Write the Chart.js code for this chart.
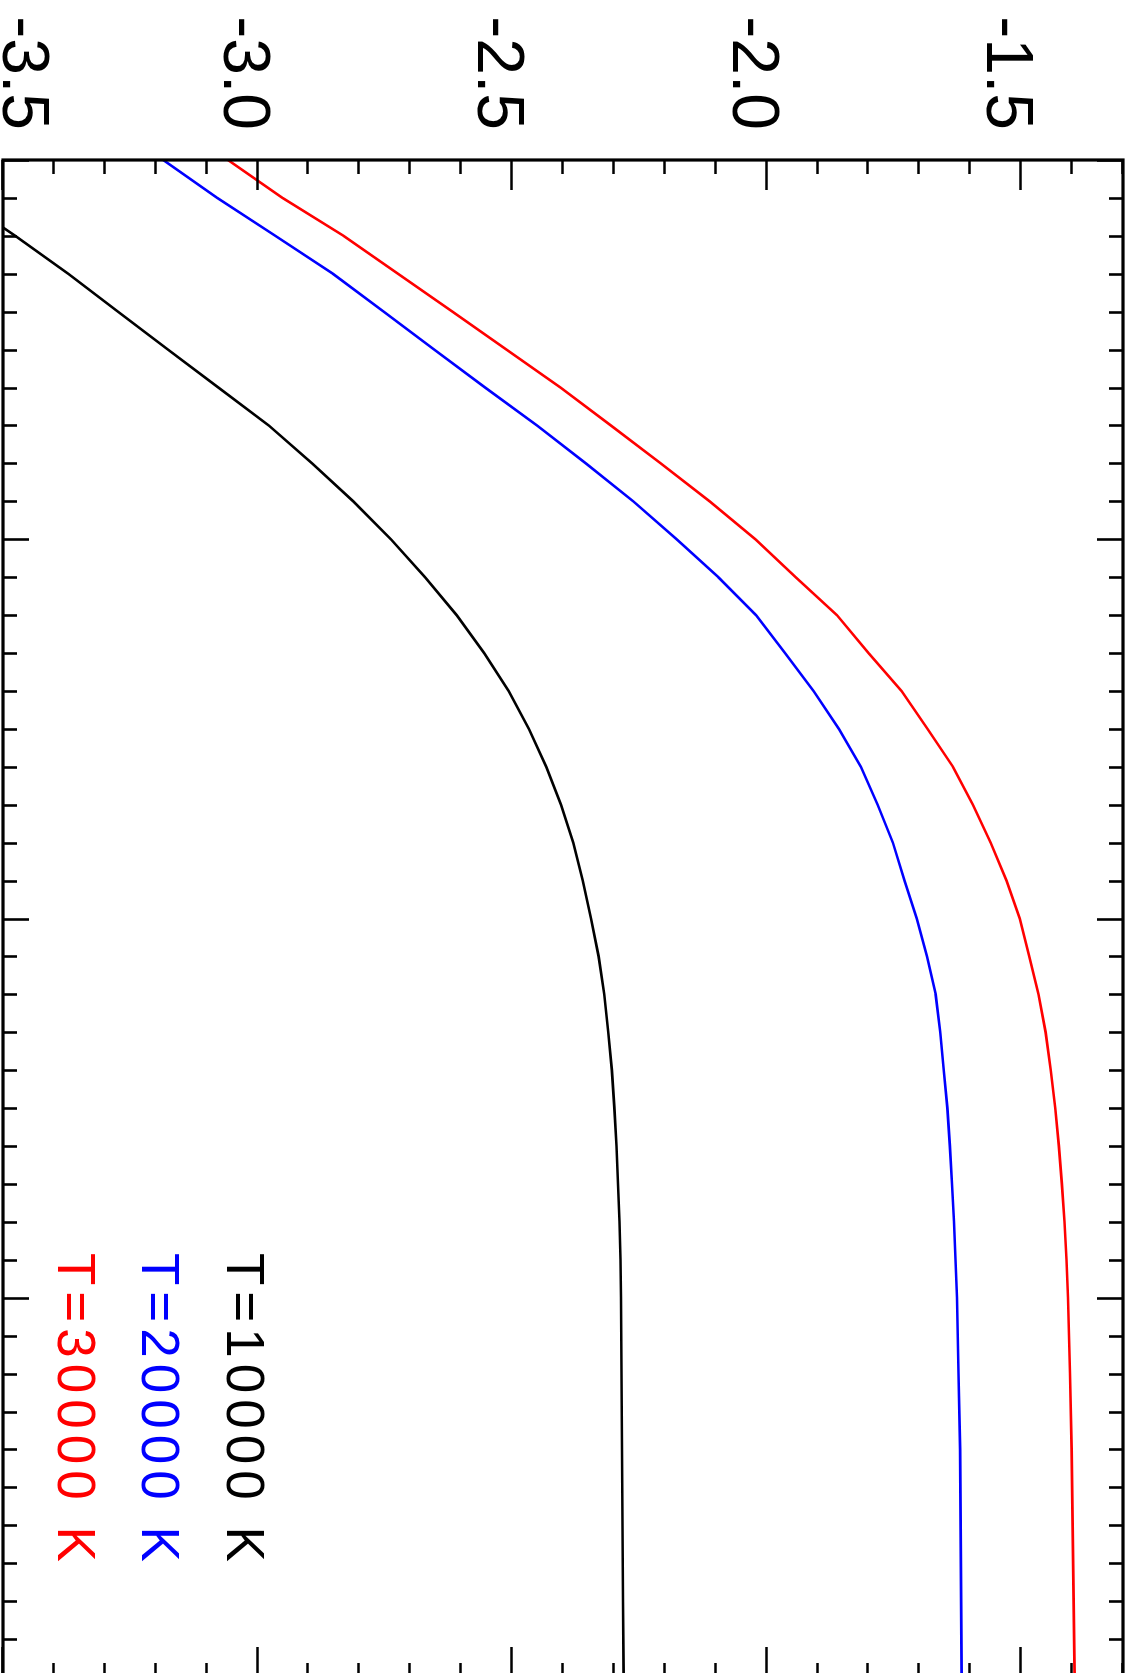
<!DOCTYPE html>
<html>
<head>
    <title>T curves</title>
    <script src="https://cdn.jsdelivr.net/npm/chart.js"></script>
    <style>
        html, body { margin: 0; padding: 0; background: #fff; overflow: hidden; }
        /* the plot is drawn landscape and turned a quarter turn clockwise */
        #wrap {
            position: absolute; left: 0; top: 0;
            width: 1700px; height: 1133px;
            transform-origin: 0 0;
            transform: translate(1133px, 0) rotate(90deg);
        }
    </style>
</head>
<body>
    <div id="wrap">
        <canvas id="chart" width="1700" height="1133"></canvas>
    </div>

    <script>
        // data
        const xValues = [0, 0.1, 0.2, 0.3, 0.4, 0.5, 0.6, 0.7, 0.8, 0.9,
                         1.0, 1.1, 1.2, 1.3, 1.4, 1.5, 1.6, 1.7, 1.8, 1.9,
                         2.0, 2.1, 2.2, 2.3, 2.4, 2.5, 2.6, 2.7, 2.8, 2.9,
                         3.0, 3.2, 3.4, 3.6, 3.8, 4.0];
        const t10000 = [-3.690, -3.585, -3.476, -3.372, -3.274, -3.176, -3.077, -2.978, -2.893, -2.812,
                        -2.738, -2.671, -2.609, -2.555, -2.507, -2.467, -2.433, -2.404, -2.380, -2.361,
                        -2.345, -2.330, -2.319, -2.311, -2.304, -2.299, -2.295, -2.292, -2.289, -2.287,
                        -2.286, -2.285, -2.284, -2.283, -2.282, -2.281];
        const t20000 = [-3.185, -3.079, -2.965, -2.852, -2.752, -2.653, -2.553, -2.451, -2.355, -2.262,
                        -2.177, -2.095, -2.021, -1.964, -1.908, -1.858, -1.815, -1.782, -1.752, -1.729,
                        -1.705, -1.685, -1.668, -1.659, -1.652, -1.645, -1.640, -1.636, -1.632, -1.629,
                        -1.626, -1.623, -1.620, -1.619, -1.618, -1.617];
        const t30000 = [-3.058, -2.951, -2.831, -2.724, -2.617, -2.511, -2.405, -2.306, -2.208, -2.112,
                        -2.022, -1.943, -1.862, -1.800, -1.735, -1.684, -1.634, -1.595, -1.560, -1.529,
                        -1.503, -1.484, -1.466, -1.452, -1.442, -1.433, -1.426, -1.420, -1.415, -1.411,
                        -1.408, -1.404, -1.401, -1.399, -1.397, -1.395];
        const seriesLabels = ['T=10000 K', 'T=20000 K', 'T=30000 K'];
        const seriesColors = ['#000000', '#0000ff', '#ff0000'];

        // axes
        const xMin = 0, xMax = 4;
        const xTicks = [0, 1, 2, 3, 4];
        const yMin = -3.5, yMax = -1.3;
        const yTicks = [-3.5, -3.0, -2.5, -2.0, -1.5];
        const yTickLabels = ['-3.5', '-3.0', '-2.5', '-2.0', '-1.5'];
        const minorStep = 0.1;

        function toPoints(ys) {
            return xValues.map((x, i) => ({ x: x, y: ys[i] }));
        }

        // frame, inward ticks, tick labels and legend, all placed via the chart scales
        const framePlugin = {
            id: 'frame',
            afterDatasetsDraw(chart) {
                const ctx = chart.ctx;
                const ca = chart.chartArea;
                const xs = chart.scales.x;
                const ys = chart.scales.y;
                ctx.save();
                ctx.strokeStyle = '#000';
                ctx.lineCap = 'butt';

                // y ticks on left and right edges
                ctx.lineWidth = 2.6;
                for (let v = yMin; v <= yMax + 1e-9; v += minorStep) {
                    const isMajor = yTicks.some(t => Math.abs(t - v) < 1e-6);
                    const len = isMajor ? 30 : 14;
                    const py = Math.round(ys.getPixelForValue(v)) + 0.5;
                    ctx.beginPath();
                    ctx.moveTo(ca.left, py); ctx.lineTo(ca.left + len, py);
                    ctx.moveTo(ca.right, py); ctx.lineTo(ca.right - len, py);
                    ctx.stroke();
                }
                // x ticks on bottom and top edges
                for (let v = xMin; v <= xMax + 1e-9; v += minorStep) {
                    const isMajor = xTicks.some(t => Math.abs(t - v) < 1e-6);
                    const len = isMajor ? 26 : 14;
                    const px = Math.round(xs.getPixelForValue(v)) + 0.5;
                    ctx.beginPath();
                    ctx.moveTo(px, ca.bottom); ctx.lineTo(px, ca.bottom - len);
                    ctx.moveTo(px, ca.top); ctx.lineTo(px, ca.top + len);
                    ctx.stroke();
                }

                // frame
                ctx.lineWidth = 3.2;
                ctx.strokeRect(ca.left, ca.top, ca.right - ca.left, ca.bottom - ca.top);

                // y tick labels, kept inside the canvas
                ctx.fillStyle = '#000';
                ctx.font = '66px "Liberation Sans", Arial, sans-serif';
                ctx.textAlign = 'right';
                ctx.textBaseline = 'alphabetic';
                ys.ticks.forEach((t, i) => {
                    const py = ys.getPixelForValue(t.value);
                    const base = Math.min(py + 34, ca.bottom);
                    ctx.fillText(yTickLabels[i], ca.left - 30, base);
                });

                // legend
                ctx.font = '53px "Liberation Sans", Arial, sans-serif';
                ctx.letterSpacing = '6px';
                ctx.textAlign = 'left';
                chart.data.datasets.forEach((ds, i) => {
                    ctx.fillStyle = ds.borderColor;
                    ctx.fillText(ds.label, ca.left + 1093, ca.top + 896 + i * 84.5);
                });
                ctx.restore();
            }
        };

        const ctx = document.getElementById('chart').getContext('2d');
        new Chart(ctx, {
            type: 'line',
            data: {
                datasets: [t10000, t20000, t30000].map((ys, i) => ({
                    label: seriesLabels[i],
                    data: toPoints(ys),
                    borderColor: seriesColors[i],
                    borderWidth: 2.6,
                    pointRadius: 0,
                    tension: 0,
                    fill: false
                }))
            },
            options: {
                responsive: false,
                animation: false,
                devicePixelRatio: 1,
                layout: { padding: { left: 160, right: 23, top: 10, bottom: 3 } },
                plugins: { legend: { display: false }, tooltip: { enabled: false } },
                scales: {
                    x: {
                        type: 'linear', min: xMin, max: xMax,
                        grid: { display: false }, border: { display: false },
                        ticks: { display: false },
                        afterBuildTicks: s => { s.ticks = xTicks.map(v => ({ value: v })); },
                        afterFit: s => { s.height = 0; }
                    },
                    y: {
                        type: 'linear', min: yMin, max: yMax,
                        grid: { display: false }, border: { display: false },
                        ticks: { display: false },
                        afterBuildTicks: s => { s.ticks = yTicks.map(v => ({ value: v })); },
                        afterFit: s => { s.width = 0; }
                    }
                }
            },
            plugins: [framePlugin]
        });
    </script>
</body>
</html>
